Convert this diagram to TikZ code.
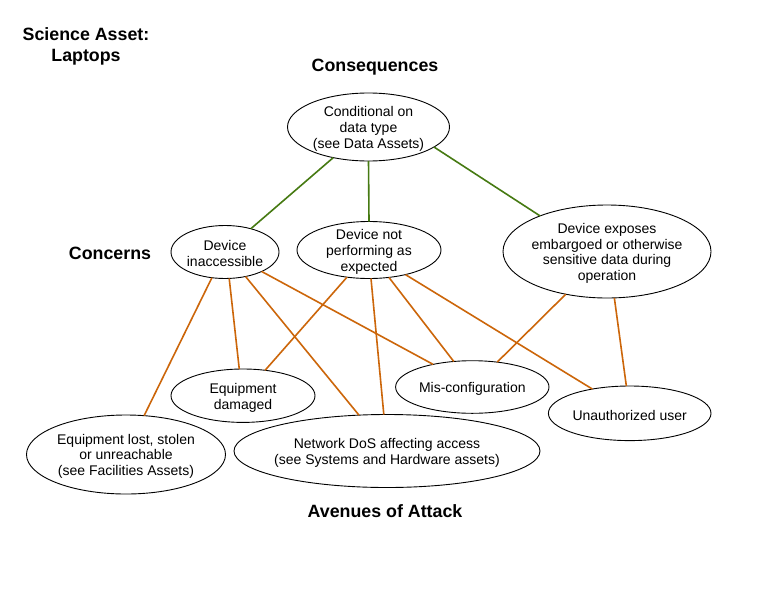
\documentclass[tikz,border=0pt]{standalone}
\usepackage{fontspec}
\setmainfont{Liberation Sans}
\usetikzlibrary{shapes.geometric}
\definecolor{cgreen}{RGB}{70,122,18}
\definecolor{corange}{RGB}{204,102,10}
\begin{document}
\begin{tikzpicture}[x=1pt,y=-1pt,
  ell/.style={draw=black, line width=0.9pt, ellipse, inner sep=0pt, outer sep=0pt},
  txt/.style={font=\fontsize{14}{15.8}\selectfont, align=center, inner sep=0pt, yshift=-1.8pt},
  ttl/.style={font=\fontsize{17.8}{21.5}\selectfont\bfseries, align=center, inner sep=0pt},
  gl/.style={draw=cgreen, line width=1.6pt},
  ol/.style={draw=corange, line width=1.6pt}]
\useasboundingbox[fill=white] (0,0) rectangle (783,597);

% titles
\node[ttl] (title) at (86,46.5) {Science Asset:\\Laptops};
\node[ttl] (cons) at (375,67) {Consequences};
\node[ttl] (conc) at (110,253) {Concerns};
\node[ttl] (aven) at (385,511) {Avenues of Attack};

% ellipses
\node[ell, minimum width=162, minimum height=68] (cond) at (368.5,127) {};
\node[txt] (cond-t) at (cond) {Conditional on\\data type\\(see Data Assets)};

\node[ell, minimum width=108, minimum height=53] (inacc) at (225,252) {};
\node[txt] (inacc-t) at (inacc) {Device\\inaccessible};

\node[ell, minimum width=144, minimum height=57] (perf) at (369,250) {};
\node[txt] (perf-t) at (perf) {Device not\\performing as\\expected};

\node[ell, minimum width=208, minimum height=93] (expo) at (607,251.5) {};
\node[txt] (expo-t) at (expo) {Device exposes\\embargoed or otherwise\\sensitive data during\\operation};

\node[ell, minimum width=144, minimum height=53.4] (dam) at (243,395.7) {};
\node[txt] (dam-t) at (dam) {Equipment\\damaged};

\node[ell, minimum width=153.4, minimum height=52.6] (misc) at (472.3,387) {};
\node[txt] (misc-t) at (misc) {Mis-configuration};

\node[ell, minimum width=162.6, minimum height=54.6] (unauth) at (629.7,413.3) {};
\node[txt] (unauth-t) at (unauth) {Unauthorized user};

\node[ell, minimum width=199, minimum height=79] (lost) at (126,454.5) {};
\node[txt] (lost-t) at (lost) {Equipment lost, stolen\\or unreachable\\(see Facilities Assets)};

\node[ell, minimum width=306, minimum height=73] (dos) at (387,451) {};
\node[txt] (dos-t) at (dos) {Network DoS affecting access\\(see Systems and Hardware assets)};

% consequence links
\draw[gl] (cond.-139) -- (inacc.42);
\draw[gl] (cond.-90) -- (perf.90);
\draw[gl] (cond.-17.5) -- (expo.152);

% avenue links
\draw[ol] (inacc.-117) -- (lost.65);
\draw[ol] (inacc.-81.6) -- (dam.98.3);
\draw[ol] (inacc.-50) -- (dos.128);
\draw[ol] (inacc.-28.2) -- (misc.150.8);
\draw[ol] (perf.-129.7) -- (dam.49.6);
\draw[ol] (perf.-86) -- (dos.95.6);
\draw[ol] (perf.-54.5) -- (misc.126.7);
\draw[ol] (perf.-34) -- (unauth.147.7);
\draw[ol] (expo.-134.2) -- (misc.45);
\draw[ol] (expo.-81.2) -- (unauth.97.9);
\end{tikzpicture}
\end{document}
